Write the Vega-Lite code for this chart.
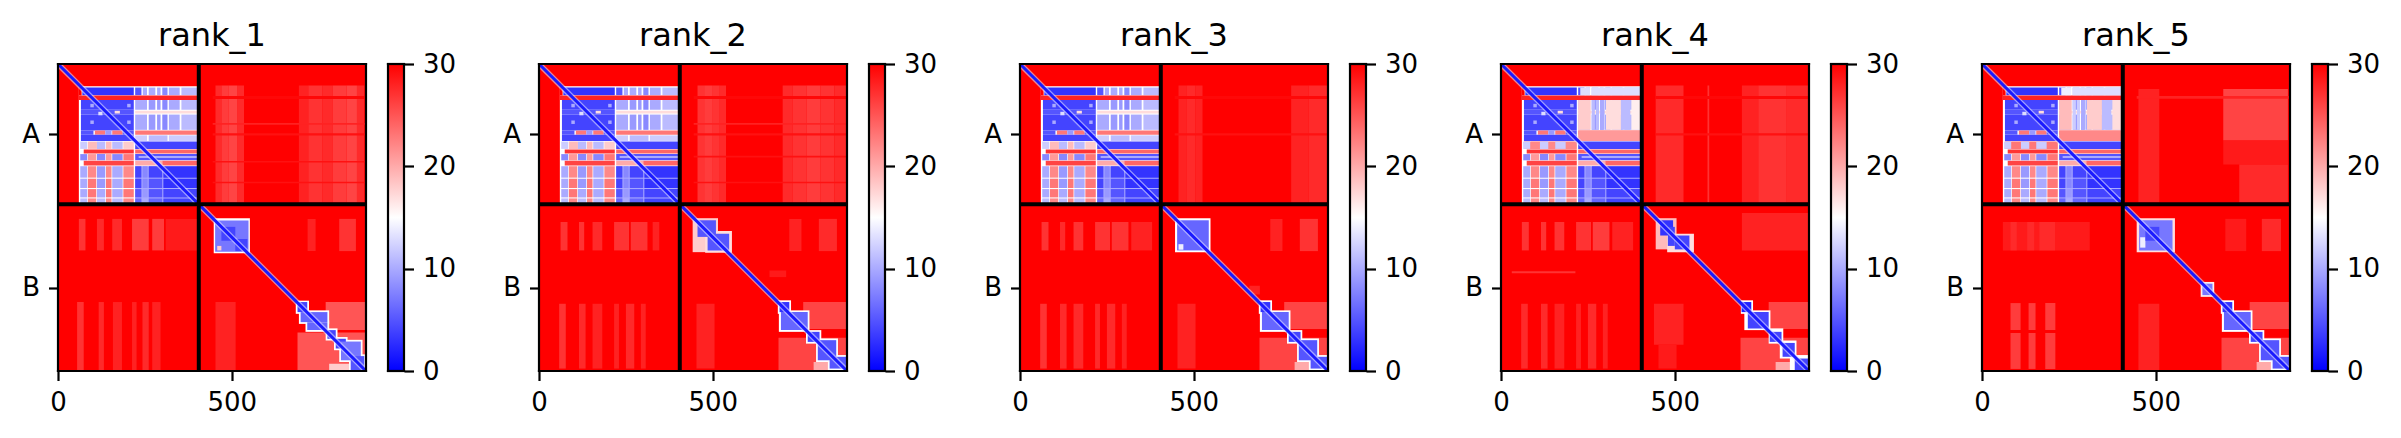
{"$schema":"https://vega.github.io/schema/vega-lite/v6.json","background":"white","padding":{"left":21,"top":20,"right":5,"bottom":5},"spacing":46,
"config":{"view":{"stroke":null},"font":"DejaVu Sans","axis":{"labelFont":"DejaVu Sans","labelFontSize":26,"labelColor":"black","tickColor":"black","tickSize":9.5,"tickWidth":2.2,"domain":false,"grid":false,"title":null,"labelPadding":9,"labelFlush":false,"labelOverlap":false},"title":{"font":"DejaVu Sans","fontSize":32,"fontWeight":"normal","color":"black","offset":9,"anchor":"middle"}},
"datasets":{
"frame":[{"x":0,"x2":886,"y":0,"y2":0},{"x":0,"x2":886,"y":886,"y2":886},{"x":0,"x2":0,"y":0,"y2":886},{"x":886,"x2":886,"y":0,"y2":886}],
"split":[{"x":405,"x2":405,"y":0,"y2":886},{"x":0,"x2":886,"y":405,"y2":405}],
"diag":[{"x":0,"x2":886,"y":0,"y2":886}],
"cb":[{"x":0,"x2":1,"y":0,"y2":30}],
"cbf":[{"x":0,"x2":1,"y":0,"y2":0},{"x":0,"x2":1,"y":30,"y2":30},{"x":0,"x2":0,"y":0,"y2":30},{"x":1,"x2":1,"y":0,"y2":30}],
"aa":[{"x":0,"x2":886,"y":0,"y2":886,"v":30},{"x":60,"x2":405,"y":64,"y2":405,"v":15},{"x":60,"x2":68,"y":64,"y2":91,"v":30},
{"x":70,"x2":218,"y":68,"y2":90,"v":3},{"x":222,"x2":240,"y":68,"y2":90,"v":5},{"x":244,"x2":256,"y":68,"y2":90,"v":10},{"x":261,"x2":280,"y":68,"y2":90,"v":10},{"x":285,"x2":295,"y":68,"y2":90,"v":10},{"x":300,"x2":315,"y":68,"y2":90,"v":8},{"x":319,"x2":350,"y":68,"y2":90,"v":10},{"x":355,"x2":405,"y":68,"y2":90,"v":11},
{"x":60,"x2":405,"y":91,"y2":104,"v":28},
{"x":66,"x2":218,"y":104,"y2":132,"v":4},{"x":222,"x2":256,"y":104,"y2":132,"v":10},{"x":261,"x2":280,"y":104,"y2":132,"v":9},{"x":285,"x2":295,"y":104,"y2":132,"v":9},{"x":300,"x2":315,"y":104,"y2":132,"v":8},{"x":319,"x2":350,"y":104,"y2":132,"v":10},{"x":355,"x2":405,"y":104,"y2":132,"v":11},
{"x":66,"x2":218,"y":132,"y2":146,"v":5},{"x":222,"x2":405,"y":135,"y2":143,"v":17},
{"x":66,"x2":218,"y":146,"y2":192,"v":4},{"x":222,"x2":256,"y":146,"y2":190,"v":10},{"x":261,"x2":280,"y":146,"y2":190,"v":9},{"x":285,"x2":295,"y":146,"y2":190,"v":9},{"x":300,"x2":315,"y":146,"y2":190,"v":8},{"x":319,"x2":350,"y":146,"y2":190,"v":10},{"x":355,"x2":405,"y":146,"y2":190,"v":11},
{"x":93,"x2":103,"y":115,"y2":125,"v":10},{"x":116,"x2":128,"y":138,"y2":148,"v":13},{"x":163,"x2":178,"y":135,"y2":143,"v":17},{"x":199,"x2":209,"y":115,"y2":125,"v":10},{"x":93,"x2":103,"y":163,"y2":173,"v":10},{"x":199,"x2":209,"y":163,"y2":173,"v":10},
{"x":66,"x2":102,"y":192,"y2":204,"v":5},{"x":106,"x2":136,"y":192,"y2":204,"v":23},{"x":136,"x2":154,"y":192,"y2":204,"v":9},{"x":156,"x2":186,"y":192,"y2":204,"v":23},{"x":186,"x2":218,"y":192,"y2":204,"v":5},{"x":222,"x2":405,"y":192,"y2":204,"v":23},
{"x":66,"x2":218,"y":204,"y2":222,"v":4},{"x":222,"x2":256,"y":206,"y2":222,"v":12},{"x":261,"x2":315,"y":206,"y2":222,"v":11},{"x":319,"x2":405,"y":206,"y2":222,"v":12},
{"x":64,"x2":84,"y":224,"y2":245,"v":12},{"x":86,"x2":112,"y":224,"y2":245,"v":19},{"x":112,"x2":136,"y":224,"y2":245,"v":11},{"x":138,"x2":154,"y":224,"y2":245,"v":19},{"x":156,"x2":186,"y":224,"y2":245,"v":11},{"x":188,"x2":218,"y":224,"y2":245,"v":18},{"x":222,"x2":405,"y":224,"y2":245,"v":4},
{"x":74,"x2":218,"y":247,"y2":258,"v":27},{"x":222,"x2":405,"y":247,"y2":258,"v":24},
{"x":64,"x2":84,"y":260,"y2":278,"v":8},{"x":86,"x2":110,"y":260,"y2":278,"v":21},{"x":112,"x2":136,"y":260,"y2":278,"v":8},{"x":138,"x2":154,"y":260,"y2":278,"v":21},{"x":156,"x2":186,"y":260,"y2":278,"v":8},{"x":188,"x2":218,"y":260,"y2":278,"v":23},{"x":222,"x2":405,"y":260,"y2":278,"v":5},{"x":232,"x2":405,"y":267,"y2":270,"v":15},
{"x":74,"x2":218,"y":279,"y2":293,"v":26},{"x":222,"x2":300,"y":279,"y2":293,"v":20},{"x":300,"x2":405,"y":279,"y2":293,"v":24},
{"x":64,"x2":84,"y":295,"y2":328,"v":10},{"x":86,"x2":110,"y":295,"y2":328,"v":22},{"x":112,"x2":136,"y":295,"y2":328,"v":9},{"x":138,"x2":154,"y":295,"y2":328,"v":22},{"x":156,"x2":186,"y":295,"y2":328,"v":10},{"x":188,"x2":218,"y":295,"y2":328,"v":22},
{"x":64,"x2":84,"y":331,"y2":358,"v":10},{"x":86,"x2":110,"y":331,"y2":358,"v":23},{"x":112,"x2":136,"y":331,"y2":358,"v":9},{"x":138,"x2":154,"y":331,"y2":358,"v":23},{"x":156,"x2":186,"y":331,"y2":358,"v":10},{"x":188,"x2":218,"y":331,"y2":358,"v":23},
{"x":64,"x2":84,"y":361,"y2":385,"v":10},{"x":86,"x2":110,"y":361,"y2":385,"v":23},{"x":112,"x2":136,"y":361,"y2":385,"v":10},{"x":138,"x2":154,"y":361,"y2":385,"v":23},{"x":156,"x2":186,"y":361,"y2":385,"v":10},{"x":188,"x2":218,"y":361,"y2":385,"v":23},
{"x":64,"x2":84,"y":388,"y2":405,"v":11},{"x":86,"x2":110,"y":388,"y2":405,"v":22},{"x":112,"x2":136,"y":388,"y2":405,"v":11},{"x":138,"x2":154,"y":388,"y2":405,"v":22},{"x":156,"x2":186,"y":388,"y2":405,"v":11},{"x":188,"x2":218,"y":388,"y2":405,"v":22},
{"x":222,"x2":405,"y":295,"y2":405,"v":10},
{"x":222,"x2":240,"y":295,"y2":328,"v":4},{"x":243,"x2":258,"y":295,"y2":328,"v":8},{"x":261,"x2":300,"y":295,"y2":328,"v":4},{"x":303,"x2":405,"y":295,"y2":328,"v":3},
{"x":222,"x2":240,"y":331,"y2":358,"v":4},{"x":243,"x2":258,"y":331,"y2":358,"v":8},{"x":261,"x2":300,"y":331,"y2":358,"v":5},{"x":303,"x2":405,"y":331,"y2":358,"v":3},
{"x":222,"x2":240,"y":361,"y2":385,"v":5},{"x":243,"x2":258,"y":361,"y2":385,"v":9},{"x":261,"x2":300,"y":361,"y2":385,"v":5},{"x":303,"x2":405,"y":361,"y2":385,"v":4},
{"x":222,"x2":240,"y":388,"y2":405,"v":6},{"x":243,"x2":258,"y":388,"y2":405,"v":10},{"x":261,"x2":300,"y":388,"y2":405,"v":6},{"x":303,"x2":405,"y":388,"y2":405,"v":4}],
"r1":[{"x":453,"x2":470,"y":62,"y2":399,"v":27.5},{"x":470,"x2":490,"y":62,"y2":399,"v":26.5},{"x":490,"x2":515,"y":62,"y2":399,"v":26},{"x":515,"x2":535,"y":62,"y2":399,"v":27.5},{"x":693,"x2":720,"y":62,"y2":399,"v":28},{"x":720,"x2":760,"y":62,"y2":399,"v":27},{"x":760,"x2":790,"y":62,"y2":399,"v":27.5},{"x":790,"x2":830,"y":62,"y2":399,"v":26.5},{"x":830,"x2":860,"y":62,"y2":399,"v":26},{"x":860,"x2":881,"y":62,"y2":399,"v":27.5},
{"x":445,"x2":886,"y":92,"y2":101,"v":29.5},{"x":445,"x2":886,"y":170,"y2":175,"v":28},{"x":445,"x2":886,"y":200,"y2":206,"v":29},{"x":445,"x2":886,"y":280,"y2":284,"v":29},{"x":445,"x2":886,"y":340,"y2":344,"v":29},
{"x":60,"x2":79,"y":447,"y2":538,"v":27},{"x":112,"x2":132,"y":447,"y2":538,"v":27.5},{"x":156,"x2":184,"y":447,"y2":538,"v":27.5},{"x":213,"x2":261,"y":447,"y2":538,"v":26.5},{"x":271,"x2":305,"y":447,"y2":538,"v":26.5},{"x":310,"x2":400,"y":447,"y2":538,"v":28.5},
{"x":55,"x2":74,"y":687,"y2":884,"v":27},{"x":117,"x2":132,"y":687,"y2":884,"v":27.5},{"x":158,"x2":184,"y":687,"y2":884,"v":28},{"x":213,"x2":226,"y":687,"y2":884,"v":28},{"x":243,"x2":261,"y":687,"y2":884,"v":27.5},{"x":271,"x2":295,"y":687,"y2":884,"v":28},
{"x":718,"x2":741,"y":447,"y2":540,"v":28},{"x":809,"x2":857,"y":447,"y2":540,"v":27},{"x":453,"x2":511,"y":687,"y2":884,"v":28},
{"x":448,"x2":552,"y":445,"y2":546,"v":15},{"x":452,"x2":548,"y":452,"y2":542,"v":7},{"x":470,"x2":510,"y":470,"y2":510,"v":4},{"x":510,"x2":545,"y":505,"y2":540,"v":4},{"x":458,"x2":470,"y":525,"y2":538,"v":18},
{"x":770,"x2":886,"y":687,"y2":768,"v":25},{"x":689,"x2":886,"y":775,"y2":886,"v":25},{"x":780,"x2":886,"y":865,"y2":886,"v":18},
{"x":684,"x2":722,"y":683,"y2":721,"v":15},{"x":693,"x2":780,"y":711,"y2":750,"v":15},{"x":712,"x2":780,"y":740,"y2":773,"v":15},{"x":770,"x2":804,"y":763,"y2":798,"v":15},{"x":794,"x2":833,"y":788,"y2":826,"v":15},{"x":809,"x2":876,"y":796,"y2":860,"v":15},{"x":837,"x2":886,"y":838,"y2":886,"v":15},
{"x":689,"x2":717,"y":687,"y2":716,"v":4},{"x":698,"x2":775,"y":716,"y2":745,"v":6},{"x":717,"x2":775,"y":745,"y2":768,"v":6},{"x":775,"x2":799,"y":768,"y2":793,"v":4},{"x":799,"x2":828,"y":793,"y2":821,"v":4},{"x":814,"x2":871,"y":801,"y2":855,"v":7},{"x":842,"x2":881,"y":843,"y2":884,"v":5}],
"r2":[{"x":456,"x2":475,"y":62,"y2":399,"v":27},{"x":475,"x2":500,"y":62,"y2":399,"v":26.5},{"x":500,"x2":520,"y":62,"y2":399,"v":27},{"x":520,"x2":538,"y":62,"y2":399,"v":27.5},{"x":701,"x2":730,"y":62,"y2":399,"v":27.5},{"x":730,"x2":770,"y":62,"y2":399,"v":27},{"x":770,"x2":810,"y":62,"y2":399,"v":26.5},{"x":810,"x2":850,"y":62,"y2":399,"v":27},{"x":850,"x2":884,"y":62,"y2":399,"v":27.5},
{"x":445,"x2":886,"y":92,"y2":101,"v":29.5},{"x":445,"x2":886,"y":170,"y2":175,"v":28},{"x":445,"x2":886,"y":200,"y2":206,"v":29},{"x":445,"x2":886,"y":265,"y2":270,"v":29},{"x":445,"x2":886,"y":340,"y2":344,"v":29},
{"x":62,"x2":82,"y":456,"y2":538,"v":27},{"x":115,"x2":130,"y":456,"y2":538,"v":27},{"x":154,"x2":182,"y":456,"y2":538,"v":27.5},{"x":216,"x2":259,"y":456,"y2":538,"v":27},{"x":264,"x2":312,"y":456,"y2":538,"v":27},{"x":327,"x2":346,"y":456,"y2":538,"v":28},
{"x":58,"x2":77,"y":692,"y2":879,"v":27},{"x":115,"x2":134,"y":692,"y2":879,"v":27.5},{"x":154,"x2":182,"y":692,"y2":879,"v":28},{"x":216,"x2":230,"y":692,"y2":879,"v":28},{"x":250,"x2":274,"y":692,"y2":879,"v":27.5},{"x":293,"x2":307,"y":692,"y2":879,"v":28},
{"x":720,"x2":755,"y":447,"y2":540,"v":28},{"x":805,"x2":857,"y":447,"y2":540,"v":27.5},{"x":453,"x2":505,"y":692,"y2":879,"v":28},{"x":663,"x2":711,"y":596,"y2":615,"v":28.5},
{"x":442,"x2":515,"y":445,"y2":543,"v":18},{"x":478,"x2":555,"y":482,"y2":545,"v":17},{"x":456,"x2":509,"y":451,"y2":499,"v":5},{"x":485,"x2":547,"y":490,"y2":538,"v":5},
{"x":760,"x2":886,"y":687,"y2":765,"v":26},{"x":689,"x2":886,"y":790,"y2":886,"v":26},{"x":790,"x2":886,"y":860,"y2":886,"v":20},
{"x":687,"x2":725,"y":682,"y2":721,"v":15},{"x":690,"x2":778,"y":711,"y2":773,"v":15},{"x":768,"x2":812,"y":768,"y2":807,"v":15},{"x":797,"x2":860,"y":792,"y2":860,"v":15},{"x":831,"x2":886,"y":840,"y2":884,"v":15},
{"x":692,"x2":720,"y":687,"y2":716,"v":3},{"x":696,"x2":773,"y":716,"y2":768,"v":6},{"x":773,"x2":807,"y":773,"y2":802,"v":4},{"x":802,"x2":855,"y":797,"y2":855,"v":5},{"x":836,"x2":884,"y":845,"y2":879,"v":5}],
"r3":[{"x":456,"x2":480,"y":62,"y2":399,"v":28},{"x":480,"x2":505,"y":62,"y2":399,"v":27.5},{"x":505,"x2":525,"y":62,"y2":399,"v":28},{"x":780,"x2":830,"y":62,"y2":399,"v":28},{"x":830,"x2":884,"y":62,"y2":399,"v":27.5},
{"x":445,"x2":886,"y":92,"y2":101,"v":29.5},{"x":445,"x2":886,"y":200,"y2":206,"v":29},
{"x":62,"x2":82,"y":456,"y2":538,"v":27},{"x":115,"x2":130,"y":456,"y2":538,"v":27.5},{"x":154,"x2":182,"y":456,"y2":538,"v":27},{"x":216,"x2":259,"y":456,"y2":538,"v":27},{"x":264,"x2":312,"y":456,"y2":538,"v":27},{"x":320,"x2":380,"y":456,"y2":538,"v":28},
{"x":58,"x2":77,"y":692,"y2":879,"v":27},{"x":115,"x2":134,"y":692,"y2":879,"v":27.5},{"x":154,"x2":182,"y":692,"y2":879,"v":27.5},{"x":216,"x2":230,"y":692,"y2":879,"v":27.5},{"x":250,"x2":274,"y":692,"y2":879,"v":27.5},{"x":293,"x2":307,"y":692,"y2":879,"v":28},
{"x":720,"x2":755,"y":447,"y2":540,"v":28},{"x":805,"x2":857,"y":447,"y2":540,"v":27},{"x":453,"x2":505,"y":692,"y2":879,"v":28},
{"x":446,"x2":548,"y":445,"y2":543,"v":15},{"x":452,"x2":543,"y":451,"y2":538,"v":6},{"x":456,"x2":470,"y":520,"y2":536,"v":14},
{"x":760,"x2":886,"y":687,"y2":765,"v":26},{"x":689,"x2":886,"y":790,"y2":886,"v":26},{"x":790,"x2":886,"y":860,"y2":886,"v":20},{"x":660,"x2":690,"y":640,"y2":665,"v":28},
{"x":687,"x2":725,"y":682,"y2":721,"v":15},{"x":690,"x2":778,"y":711,"y2":773,"v":15},{"x":768,"x2":812,"y":768,"y2":807,"v":15},{"x":797,"x2":860,"y":792,"y2":860,"v":15},{"x":831,"x2":886,"y":840,"y2":884,"v":15},
{"x":692,"x2":720,"y":687,"y2":716,"v":3},{"x":696,"x2":773,"y":716,"y2":768,"v":6},{"x":773,"x2":807,"y":773,"y2":802,"v":4},{"x":802,"x2":855,"y":797,"y2":855,"v":5},{"x":836,"x2":884,"y":845,"y2":879,"v":5}],
"r4":[{"x":228,"x2":256,"y":68,"y2":90,"v":13},{"x":261,"x2":405,"y":68,"y2":90,"v":13},{"x":222,"x2":258,"y":104,"y2":190,"v":18},{"x":261,"x2":270,"y":104,"y2":190,"v":11},{"x":273,"x2":282,"y":104,"y2":190,"v":11},{"x":285,"x2":298,"y":104,"y2":190,"v":10},{"x":302,"x2":345,"y":104,"y2":190,"v":17},{"x":345,"x2":372,"y":104,"y2":190,"v":11},{"x":375,"x2":405,"y":104,"y2":190,"v":16},{"x":222,"x2":405,"y":192,"y2":222,"v":21},{"x":66,"x2":218,"y":224,"y2":245,"v":22},{"x":66,"x2":84,"y":224,"y2":245,"v":12},{"x":112,"x2":136,"y":224,"y2":245,"v":12},{"x":156,"x2":186,"y":224,"y2":245,"v":12},
{"x":445,"x2":525,"y":62,"y2":399,"v":27.5},{"x":693,"x2":740,"y":62,"y2":399,"v":28},{"x":740,"x2":820,"y":62,"y2":399,"v":27},{"x":820,"x2":884,"y":62,"y2":399,"v":27.5},{"x":594,"x2":599,"y":62,"y2":399,"v":27},
{"x":445,"x2":886,"y":92,"y2":101,"v":29.5},{"x":445,"x2":886,"y":200,"y2":206,"v":29},
{"x":60,"x2":80,"y":456,"y2":538,"v":27},{"x":115,"x2":130,"y":456,"y2":538,"v":27},{"x":154,"x2":182,"y":456,"y2":538,"v":27},{"x":216,"x2":259,"y":456,"y2":538,"v":27},{"x":264,"x2":312,"y":456,"y2":538,"v":26.5},{"x":320,"x2":380,"y":456,"y2":538,"v":28},
{"x":31,"x2":214,"y":598,"y2":604,"v":27},
{"x":58,"x2":77,"y":692,"y2":879,"v":27.5},{"x":115,"x2":134,"y":692,"y2":879,"v":27.5},{"x":154,"x2":182,"y":692,"y2":879,"v":28},{"x":216,"x2":230,"y":692,"y2":879,"v":28},{"x":250,"x2":274,"y":692,"y2":879,"v":27.5},{"x":293,"x2":307,"y":692,"y2":879,"v":28},
{"x":693,"x2":884,"y":430,"y2":538,"v":28},{"x":440,"x2":525,"y":692,"y2":810,"v":28},{"x":453,"x2":505,"y":810,"y2":879,"v":28.5},
{"x":445,"x2":505,"y":445,"y2":535,"v":19},{"x":478,"x2":555,"y":490,"y2":543,"v":17},{"x":458,"x2":495,"y":451,"y2":495,"v":3},{"x":480,"x2":500,"y":470,"y2":525,"v":4},{"x":500,"x2":542,"y":495,"y2":535,"v":4},
{"x":770,"x2":886,"y":687,"y2":765,"v":26},{"x":689,"x2":886,"y":790,"y2":886,"v":26},{"x":790,"x2":886,"y":860,"y2":886,"v":20},
{"x":690,"x2":725,"y":682,"y2":721,"v":15},{"x":700,"x2":775,"y":711,"y2":768,"v":15},{"x":770,"x2":812,"y":763,"y2":807,"v":15},{"x":802,"x2":850,"y":798,"y2":850,"v":15},{"x":831,"x2":886,"y":840,"y2":886,"v":15},
{"x":692,"x2":720,"y":687,"y2":716,"v":2},{"x":710,"x2":770,"y":716,"y2":763,"v":4},{"x":773,"x2":807,"y":773,"y2":802,"v":4},{"x":810,"x2":845,"y":805,"y2":845,"v":4},{"x":845,"x2":884,"y":850,"y2":884,"v":4}],
"r5":[{"x":228,"x2":256,"y":68,"y2":90,"v":14},{"x":261,"x2":405,"y":68,"y2":90,"v":13},{"x":222,"x2":258,"y":104,"y2":190,"v":19},{"x":261,"x2":270,"y":104,"y2":190,"v":12},{"x":273,"x2":282,"y":104,"y2":190,"v":12},{"x":285,"x2":298,"y":104,"y2":190,"v":10},{"x":302,"x2":345,"y":104,"y2":190,"v":18},{"x":345,"x2":372,"y":104,"y2":190,"v":11},{"x":375,"x2":405,"y":104,"y2":190,"v":17},{"x":222,"x2":405,"y":192,"y2":222,"v":22},{"x":66,"x2":218,"y":224,"y2":245,"v":23},{"x":66,"x2":84,"y":224,"y2":245,"v":12},{"x":112,"x2":136,"y":224,"y2":245,"v":12},{"x":156,"x2":186,"y":224,"y2":245,"v":12},
{"x":450,"x2":510,"y":72,"y2":399,"v":28},{"x":694,"x2":880,"y":72,"y2":221,"v":26},{"x":694,"x2":880,"y":221,"y2":290,"v":28.5},{"x":740,"x2":880,"y":290,"y2":399,"v":27.5},{"x":445,"x2":886,"y":92,"y2":100,"v":28},
{"x":60,"x2":310,"y":456,"y2":538,"v":28.5},{"x":82,"x2":100,"y":456,"y2":538,"v":27.5},{"x":130,"x2":150,"y":456,"y2":538,"v":27.5},{"x":165,"x2":210,"y":456,"y2":538,"v":27.5},
{"x":82,"x2":111,"y":690,"y2":880,"v":26.5},{"x":134,"x2":154,"y":690,"y2":880,"v":26.5},{"x":182,"x2":211,"y":690,"y2":880,"v":26.5},{"x":0,"x2":400,"y":768,"y2":776,"v":30},
{"x":700,"x2":760,"y":447,"y2":540,"v":28.5},{"x":805,"x2":860,"y":447,"y2":540,"v":27.5},{"x":450,"x2":510,"y":692,"y2":884,"v":28},
{"x":445,"x2":555,"y":445,"y2":543,"v":17},{"x":452,"x2":548,"y":451,"y2":538,"v":7},{"x":455,"x2":470,"y":500,"y2":530,"v":14},{"x":470,"x2":510,"y":470,"y2":510,"v":4},
{"x":629,"x2":668,"y":629,"y2":672,"v":16},{"x":634,"x2":663,"y":634,"y2":667,"v":7},
{"x":770,"x2":886,"y":687,"y2":765,"v":26},{"x":689,"x2":886,"y":790,"y2":886,"v":26},{"x":790,"x2":886,"y":860,"y2":886,"v":20},
{"x":687,"x2":725,"y":682,"y2":721,"v":15},{"x":690,"x2":778,"y":711,"y2":773,"v":15},{"x":768,"x2":812,"y":768,"y2":807,"v":15},{"x":797,"x2":860,"y":792,"y2":860,"v":15},{"x":831,"x2":886,"y":840,"y2":884,"v":15},
{"x":692,"x2":720,"y":687,"y2":716,"v":3},{"x":696,"x2":773,"y":716,"y2":768,"v":6},{"x":773,"x2":807,"y":773,"y2":802,"v":4},{"x":802,"x2":855,"y":797,"y2":855,"v":5},{"x":836,"x2":884,"y":845,"y2":879,"v":5}]
},
"hconcat":[
{"spacing":18,"hconcat":[{"title":"rank_1","width":308,"height":307,"encoding":{"x":{"field":"x","type":"quantitative","scale":{"domain":[0,886],"nice":false,"zero":false},"axis":{"values":[0,500]}},"x2":{"field":"x2"},"y":{"field":"y","type":"quantitative","scale":{"domain":[886,0],"nice":false,"zero":false},"axis":{"values":[202.5,645.5],"labelExpr":"datum.value<400?'A':'B'"}},"y2":{"field":"y2"},"color":{"field":"v","type":"quantitative","scale":{"domain":[0,15,30],"range":["#0000ff","#ffffff","#ff0000"],"interpolate":"rgb"},"legend":null}},"layer":[{"data":{"name":"aa"},"mark":"rect"},{"data":{"name":"r1"},"mark":"rect"},{"data":{"name":"diag"},"mark":{"type":"rule","strokeWidth":5.5,"clip":true,"opacity":0.6},"encoding":{"color":{"value":"#ddddff"}}},{"data":{"name":"diag"},"mark":{"type":"rule","strokeWidth":3,"clip":true},"encoding":{"color":{"value":"#1a1aff"}}},{"data":{"name":"split"},"mark":{"type":"rule","strokeWidth":4},"encoding":{"color":{"value":"black"}}},{"data":{"name":"frame"},"mark":{"type":"rule","strokeWidth":2.2,"strokeCap":"square"},"encoding":{"color":{"value":"black"}}}]},
{"width":16,"height":307,"encoding":{"x":{"field":"x","type":"quantitative","scale":{"domain":[0,1],"nice":false,"zero":false},"axis":null},"x2":{"field":"x2"},"y":{"field":"y","type":"quantitative","scale":{"domain":[0,30],"nice":false,"zero":false},"axis":{"orient":"right","values":[0,10,20,30]}},"y2":{"field":"y2"}},"layer":[{"data":{"name":"cb"},"mark":{"type":"rect","color":{"gradient":"linear","x1":0,"y1":1,"x2":0,"y2":0,"stops":[{"offset":0,"color":"#0000ff"},{"offset":0.5,"color":"#ffffff"},{"offset":1,"color":"#ff0000"}]}}},{"data":{"name":"cbf"},"mark":{"type":"rule","strokeWidth":2.2,"strokeCap":"square","color":"black"}}]}]},
{"spacing":18,"hconcat":[{"title":"rank_2","width":308,"height":307,"encoding":{"x":{"field":"x","type":"quantitative","scale":{"domain":[0,886],"nice":false,"zero":false},"axis":{"values":[0,500]}},"x2":{"field":"x2"},"y":{"field":"y","type":"quantitative","scale":{"domain":[886,0],"nice":false,"zero":false},"axis":{"values":[202.5,645.5],"labelExpr":"datum.value<400?'A':'B'"}},"y2":{"field":"y2"},"color":{"field":"v","type":"quantitative","scale":{"domain":[0,15,30],"range":["#0000ff","#ffffff","#ff0000"],"interpolate":"rgb"},"legend":null}},"layer":[{"data":{"name":"aa"},"mark":"rect"},{"data":{"name":"r2"},"mark":"rect"},{"data":{"name":"diag"},"mark":{"type":"rule","strokeWidth":5.5,"clip":true,"opacity":0.6},"encoding":{"color":{"value":"#ddddff"}}},{"data":{"name":"diag"},"mark":{"type":"rule","strokeWidth":3,"clip":true},"encoding":{"color":{"value":"#1a1aff"}}},{"data":{"name":"split"},"mark":{"type":"rule","strokeWidth":4},"encoding":{"color":{"value":"black"}}},{"data":{"name":"frame"},"mark":{"type":"rule","strokeWidth":2.2,"strokeCap":"square"},"encoding":{"color":{"value":"black"}}}]},
{"width":16,"height":307,"encoding":{"x":{"field":"x","type":"quantitative","scale":{"domain":[0,1],"nice":false,"zero":false},"axis":null},"x2":{"field":"x2"},"y":{"field":"y","type":"quantitative","scale":{"domain":[0,30],"nice":false,"zero":false},"axis":{"orient":"right","values":[0,10,20,30]}},"y2":{"field":"y2"}},"layer":[{"data":{"name":"cb"},"mark":{"type":"rect","color":{"gradient":"linear","x1":0,"y1":1,"x2":0,"y2":0,"stops":[{"offset":0,"color":"#0000ff"},{"offset":0.5,"color":"#ffffff"},{"offset":1,"color":"#ff0000"}]}}},{"data":{"name":"cbf"},"mark":{"type":"rule","strokeWidth":2.2,"strokeCap":"square","color":"black"}}]}]},
{"spacing":18,"hconcat":[{"title":"rank_3","width":308,"height":307,"encoding":{"x":{"field":"x","type":"quantitative","scale":{"domain":[0,886],"nice":false,"zero":false},"axis":{"values":[0,500]}},"x2":{"field":"x2"},"y":{"field":"y","type":"quantitative","scale":{"domain":[886,0],"nice":false,"zero":false},"axis":{"values":[202.5,645.5],"labelExpr":"datum.value<400?'A':'B'"}},"y2":{"field":"y2"},"color":{"field":"v","type":"quantitative","scale":{"domain":[0,15,30],"range":["#0000ff","#ffffff","#ff0000"],"interpolate":"rgb"},"legend":null}},"layer":[{"data":{"name":"aa"},"mark":"rect"},{"data":{"name":"r3"},"mark":"rect"},{"data":{"name":"diag"},"mark":{"type":"rule","strokeWidth":5.5,"clip":true,"opacity":0.6},"encoding":{"color":{"value":"#ddddff"}}},{"data":{"name":"diag"},"mark":{"type":"rule","strokeWidth":3,"clip":true},"encoding":{"color":{"value":"#1a1aff"}}},{"data":{"name":"split"},"mark":{"type":"rule","strokeWidth":4},"encoding":{"color":{"value":"black"}}},{"data":{"name":"frame"},"mark":{"type":"rule","strokeWidth":2.2,"strokeCap":"square"},"encoding":{"color":{"value":"black"}}}]},
{"width":16,"height":307,"encoding":{"x":{"field":"x","type":"quantitative","scale":{"domain":[0,1],"nice":false,"zero":false},"axis":null},"x2":{"field":"x2"},"y":{"field":"y","type":"quantitative","scale":{"domain":[0,30],"nice":false,"zero":false},"axis":{"orient":"right","values":[0,10,20,30]}},"y2":{"field":"y2"}},"layer":[{"data":{"name":"cb"},"mark":{"type":"rect","color":{"gradient":"linear","x1":0,"y1":1,"x2":0,"y2":0,"stops":[{"offset":0,"color":"#0000ff"},{"offset":0.5,"color":"#ffffff"},{"offset":1,"color":"#ff0000"}]}}},{"data":{"name":"cbf"},"mark":{"type":"rule","strokeWidth":2.2,"strokeCap":"square","color":"black"}}]}]},
{"spacing":18,"hconcat":[{"title":"rank_4","width":308,"height":307,"encoding":{"x":{"field":"x","type":"quantitative","scale":{"domain":[0,886],"nice":false,"zero":false},"axis":{"values":[0,500]}},"x2":{"field":"x2"},"y":{"field":"y","type":"quantitative","scale":{"domain":[886,0],"nice":false,"zero":false},"axis":{"values":[202.5,645.5],"labelExpr":"datum.value<400?'A':'B'"}},"y2":{"field":"y2"},"color":{"field":"v","type":"quantitative","scale":{"domain":[0,15,30],"range":["#0000ff","#ffffff","#ff0000"],"interpolate":"rgb"},"legend":null}},"layer":[{"data":{"name":"aa"},"mark":"rect"},{"data":{"name":"r4"},"mark":"rect"},{"data":{"name":"diag"},"mark":{"type":"rule","strokeWidth":5.5,"clip":true,"opacity":0.6},"encoding":{"color":{"value":"#ddddff"}}},{"data":{"name":"diag"},"mark":{"type":"rule","strokeWidth":3,"clip":true},"encoding":{"color":{"value":"#1a1aff"}}},{"data":{"name":"split"},"mark":{"type":"rule","strokeWidth":4},"encoding":{"color":{"value":"black"}}},{"data":{"name":"frame"},"mark":{"type":"rule","strokeWidth":2.2,"strokeCap":"square"},"encoding":{"color":{"value":"black"}}}]},
{"width":16,"height":307,"encoding":{"x":{"field":"x","type":"quantitative","scale":{"domain":[0,1],"nice":false,"zero":false},"axis":null},"x2":{"field":"x2"},"y":{"field":"y","type":"quantitative","scale":{"domain":[0,30],"nice":false,"zero":false},"axis":{"orient":"right","values":[0,10,20,30]}},"y2":{"field":"y2"}},"layer":[{"data":{"name":"cb"},"mark":{"type":"rect","color":{"gradient":"linear","x1":0,"y1":1,"x2":0,"y2":0,"stops":[{"offset":0,"color":"#0000ff"},{"offset":0.5,"color":"#ffffff"},{"offset":1,"color":"#ff0000"}]}}},{"data":{"name":"cbf"},"mark":{"type":"rule","strokeWidth":2.2,"strokeCap":"square","color":"black"}}]}]},
{"spacing":18,"hconcat":[{"title":"rank_5","width":308,"height":307,"encoding":{"x":{"field":"x","type":"quantitative","scale":{"domain":[0,886],"nice":false,"zero":false},"axis":{"values":[0,500]}},"x2":{"field":"x2"},"y":{"field":"y","type":"quantitative","scale":{"domain":[886,0],"nice":false,"zero":false},"axis":{"values":[202.5,645.5],"labelExpr":"datum.value<400?'A':'B'"}},"y2":{"field":"y2"},"color":{"field":"v","type":"quantitative","scale":{"domain":[0,15,30],"range":["#0000ff","#ffffff","#ff0000"],"interpolate":"rgb"},"legend":null}},"layer":[{"data":{"name":"aa"},"mark":"rect"},{"data":{"name":"r5"},"mark":"rect"},{"data":{"name":"diag"},"mark":{"type":"rule","strokeWidth":5.5,"clip":true,"opacity":0.6},"encoding":{"color":{"value":"#ddddff"}}},{"data":{"name":"diag"},"mark":{"type":"rule","strokeWidth":3,"clip":true},"encoding":{"color":{"value":"#1a1aff"}}},{"data":{"name":"split"},"mark":{"type":"rule","strokeWidth":4},"encoding":{"color":{"value":"black"}}},{"data":{"name":"frame"},"mark":{"type":"rule","strokeWidth":2.2,"strokeCap":"square"},"encoding":{"color":{"value":"black"}}}]},
{"width":16,"height":307,"encoding":{"x":{"field":"x","type":"quantitative","scale":{"domain":[0,1],"nice":false,"zero":false},"axis":null},"x2":{"field":"x2"},"y":{"field":"y","type":"quantitative","scale":{"domain":[0,30],"nice":false,"zero":false},"axis":{"orient":"right","values":[0,10,20,30]}},"y2":{"field":"y2"}},"layer":[{"data":{"name":"cb"},"mark":{"type":"rect","color":{"gradient":"linear","x1":0,"y1":1,"x2":0,"y2":0,"stops":[{"offset":0,"color":"#0000ff"},{"offset":0.5,"color":"#ffffff"},{"offset":1,"color":"#ff0000"}]}}},{"data":{"name":"cbf"},"mark":{"type":"rule","strokeWidth":2.2,"strokeCap":"square","color":"black"}}]}]}
]}
